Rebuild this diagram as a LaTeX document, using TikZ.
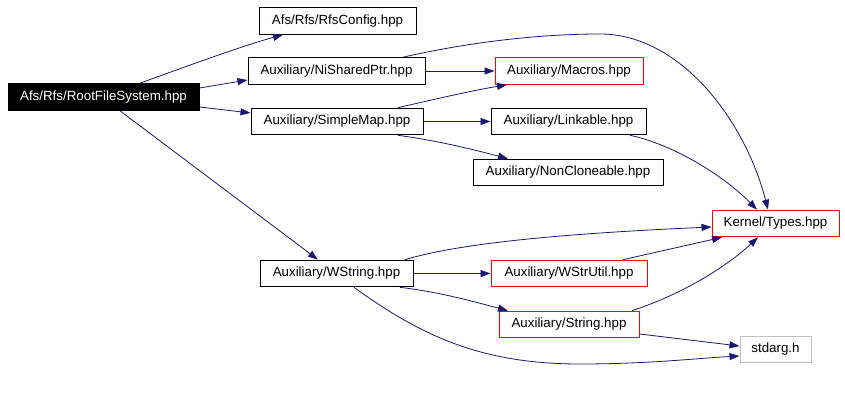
\documentclass[tikz,border=0pt]{standalone}
\usepackage{fontspec}
\setmainfont{Liberation Sans}
\usetikzlibrary{arrows.meta}
\definecolor{edgeblue}{HTML}{191970}
\definecolor{extgray}{HTML}{BFBFBF}

\begin{document}
\begin{tikzpicture}[x=0.75pt, y=-0.75pt,
                    hdr/.style={draw, line width=0.75pt, minimum height=20pt, inner sep=0pt, font=\fontsize{10}{12}\selectfont},
                    reddoc/.style={hdr, draw=red},
                    extdoc/.style={hdr, draw=extgray},
                    dep/.style={draw=edgeblue, line width=0.6pt, -{Triangle[length=7.5pt, width=5.25pt]}}]
                    \useasboundingbox (0, 0) rectangle (845, 395);

                    \node [hdr, fill=black, text=white, minimum width=143.25pt] (root) at (103.5, 97) {Afs/Rfs/RootFileSystem.hpp};
                    \node [hdr, minimum width=117.75pt] (rfscfg) at (337.5, 21) {Afs/Rfs/RfsConfig.hpp};
                    \node [hdr, minimum width=132.75pt] (nishared) at (336.5, 71) {Auxiliary/NiSharedPtr.hpp};
                    \node [hdr, minimum width=129pt] (simplemap) at (337, 121.5) {Auxiliary/SimpleMap.hpp};
                    \node [hdr, minimum width=114.75pt] (wstring) at (336.5, 273.5) {Auxiliary/WString.hpp};
                    \node [reddoc, minimum width=111pt] (macros) at (569, 71) {Auxiliary/Macros.hpp};
                    \node [hdr, minimum width=116.25pt] (linkable) at (568.5, 121.5) {Auxiliary/Linkable.hpp};
                    \node [hdr, minimum width=142.5pt] (noncl) at (568, 172.5) {Auxiliary/NonCloneable.hpp};
                    \node [reddoc, minimum width=117pt] (wstrutil) at (569, 273.5) {Auxiliary/WStrUtil.hpp};
                    \node [reddoc, minimum width=105pt] (string) at (569, 324.5) {Auxiliary/String.hpp};
                    \node [reddoc, minimum width=95.25pt] (types) at (775.5, 223.5) {Kernel/Types.hpp};
                    \node [extdoc, minimum width=53.25pt] (stdarg) at (775.5, 349.5) {stdarg.h};

                    % includes of RootFileSystem.hpp
                    \draw [dep] ([xshift=27.4pt]root.north) .. controls (190, 65) and (245, 45) .. ([xshift=-40.9pt]rfscfg.south);
                    \draw [dep] ([yshift=6.75pt]root.east) -- ([yshift=-6.75pt]nishared.west);
                    \draw [dep] ([yshift=-7.5pt]root.east) -- ([yshift=6.4pt]simplemap.west);
                    \draw [dep] ([xshift=12.4pt]root.south) -- ([xshift=-13.9pt]wstring.north);

                    % NiSharedPtr.hpp and SimpleMap.hpp
                    \draw [dep] (nishared) -- (macros);
                    \draw [dep] ([xshift=49.9pt]nishared.north) .. controls (470, 42) and (540, 34) .. (600, 34)
                                .. controls (680, 34) and (745, 120) .. ([xshift=-5.6pt]types.north);
                    \draw [dep] ([xshift=45.75pt]simplemap.north) .. controls (440, 98) and (475, 90) .. ([xshift=-46.5pt]macros.south);
                    \draw [dep] (simplemap) -- (linkable);
                    \draw [dep] ([xshift=45.75pt]simplemap.south) .. controls (440, 141) and (475, 150) .. ([xshift=-45pt]noncl.north);
                    \draw [dep] ([xshift=46.1pt]linkable.south) .. controls (668, 143) and (720, 172) .. ([xshift=-13.9pt]types.north);

                    % WString.hpp
                    \draw [dep] ([xshift=51.4pt]wstring.north) .. controls (470, 240) and (600, 232) .. ([yshift=-2.6pt]types.west);
                    \draw [dep] (wstring) -- (wstrutil);
                    \draw [dep] ([xshift=47.6pt]wstring.south) .. controls (440, 292) and (475, 302) .. ([xshift=-45.75pt]string.north);
                    \draw [dep] ([xshift=13.1pt]wstring.south) .. controls (420, 335) and (480, 364) .. (580, 364)
                                .. controls (650, 364) and (700, 358) .. ([yshift=-4.9pt]stdarg.west);

                    % into Types.hpp and stdarg.h
                    \draw [dep] ([xshift=40.5pt]wstrutil.north) -- ([xshift=-40.1pt]types.south);
                    \draw [dep] ([xshift=47.25pt]string.north) .. controls (680, 295) and (725, 268) .. ([xshift=-13.1pt]types.south);
                    \draw [dep] ([yshift=-7.1pt]string.east) -- ([yshift=2.6pt]stdarg.west);
                \end{tikzpicture}
\end{document}
